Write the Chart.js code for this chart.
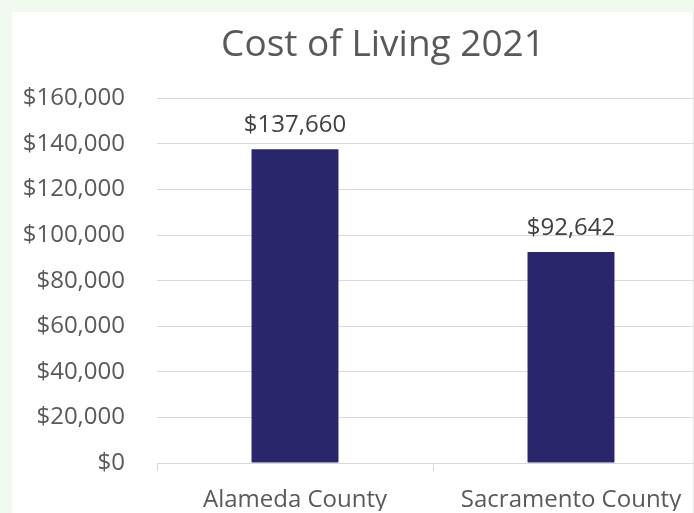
<!DOCTYPE html>
<html>
<head>
<meta charset="utf-8">
<script src="https://cdn.jsdelivr.net/npm/chart.js@4/dist/chart.umd.min.js"></script>
<style>
  html, body { margin: 0; padding: 0; }
  body { width: 694px; height: 513px; background: #f0f8ef; overflow: hidden; position: relative; }
  #card { position: absolute; left: 12px; top: 12px; width: 681px; height: 501px; background: #fff;
          overflow: hidden; border-right: 1px solid #e6e6e6; }
  #wrap { position: absolute; left: 0; top: 0; width: 736px; height: 501px; }
</style>
</head>
<body>
<div id="card"><div id="wrap"><canvas id="chart"></canvas></div></div>
<script>
const counties = ['Alameda County', 'Sacramento County']
const costs = [137660, 92642]
const yMin = 0
const yMax = 160000
const yStep = 20000

const money = v => '$' + Number(v).toLocaleString('en-US')

// value labels above each bar, like Excel's data labels
const barLabels = {
    id: 'barLabels',
    afterLayout(chart) {
        // let the y tick labels use the space left of the narrowed axis box
        chart.scales.y.left = 8
    },
    afterDatasetsDraw(chart) {
        const ctx = chart.ctx
        ctx.save()
        ctx.font = '24px "Open Sans"'
        ctx.fillStyle = '#404040'
        ctx.textAlign = 'center'
        ctx.textBaseline = 'alphabetic'
        chart.getDatasetMeta(0).data.forEach(function (bar, i) {
            ctx.fillText(money(costs[i]), bar.x, bar.y - 17)
        })
        ctx.restore()
    }
}

const data_cost = {
    labels: counties,
    datasets: [{
        label: 'Cost of Living',
        data: costs,
        backgroundColor: '#29266b',
        borderWidth: 0,
        categoryPercentage: 1,
        barPercentage: 0.315
    }]
}

const options_cost = {
    responsive: true,
    maintainAspectRatio: false,
    animation: false,
    layout: { padding: { left: 45, right: 39, top: 0, bottom: 2 } },
    plugins: {
        legend: { display: false },
        tooltip: { enabled: false },
        title: {
            display: true,
            text: 'Cost of Living 2021',
            color: '#595959',
            font: { family: 'Open Sans', size: 37, weight: 'normal' },
            padding: { top: 11, bottom: 31 }
        }
    },
    scales: {
        x: {
            afterFit(scale) { scale.height = 48 },
            grid: { display: true, drawOnChartArea: false, drawTicks: true, tickLength: 8, color: '#d9d9d9' },
            border: { display: true, color: '#d9d9d9', width: 1 },
            ticks: { color: '#595959', font: { family: 'Open Sans', size: 24 }, padding: 15, maxRotation: 0 }
        },
        y: {
            min: yMin,
            max: yMax,
            afterFit(scale) { scale.width = 100 },
            grid: { color: '#d9d9d9', drawTicks: false },
            border: { display: false },
            ticks: {
                stepSize: yStep,
                color: '#595959',
                font: { family: 'Open Sans', size: 24 },
                padding: 32,
                callback: v => money(v)
            }
        }
    }
}

new Chart(document.getElementById('chart'), {
    type: 'bar',
    data: data_cost,
    options: options_cost,
    plugins: [barLabels]
})
</script>
</body>
</html>
